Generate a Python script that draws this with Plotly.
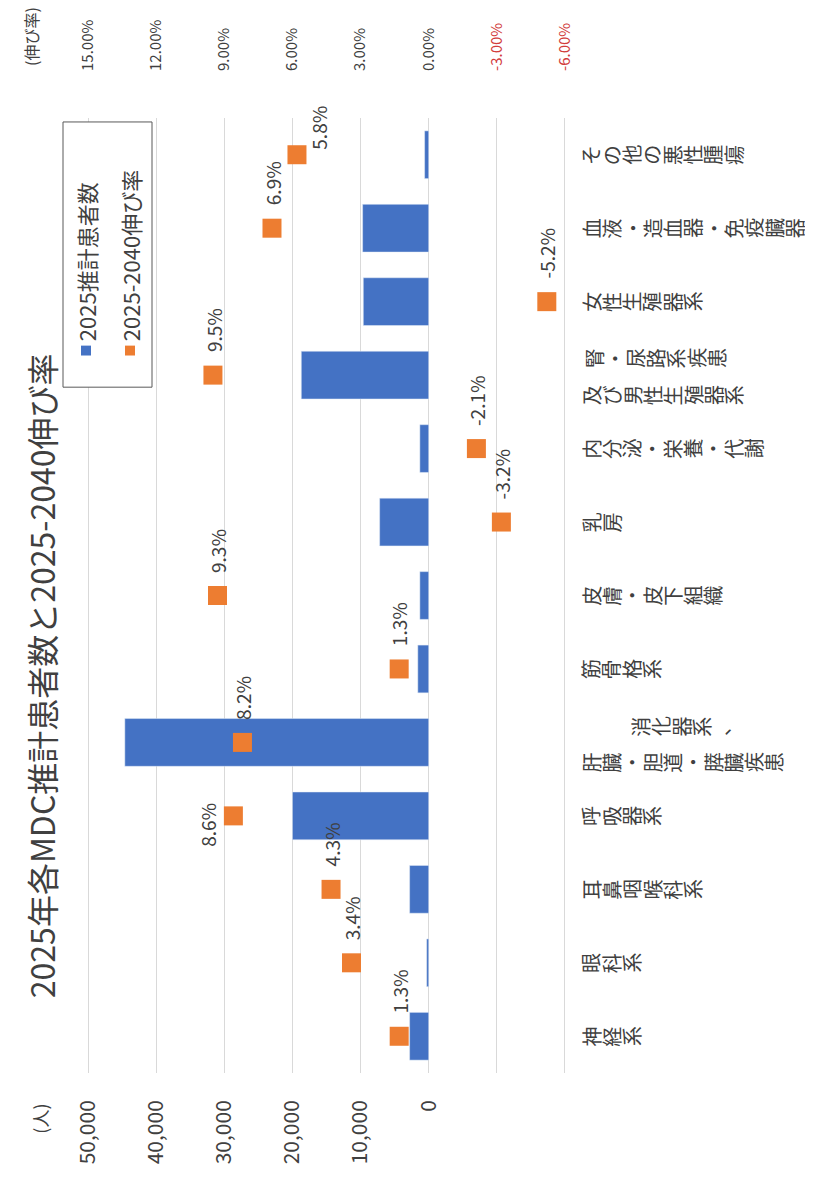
import plotly.graph_objects as go

# ---------------- data ----------------
categories = ["神経系", "眼科系", "耳鼻咽喉科系", "呼吸器系", "消化器系、肝臓・胆道・膵臓疾患",
              "筋骨格系", "皮膚・皮下組織", "乳房", "内分泌・栄養・代謝",
              "腎・尿路系疾患及び男性生殖器系", "女性生殖器系", "血液・造血器・免疫臓器", "その他の悪性腫瘍"]
label_lines = [["神経系"], ["眼科系"], ["耳鼻咽喉科系"], ["呼吸器系"], ["消化器系、", "肝臓・胆道・膵臓疾患"],
               ["筋骨格系"], ["皮膚・皮下組織"], ["乳房"], ["内分泌・栄養・代謝"],
               ["腎・尿路系疾患", "及び男性生殖器系"], ["女性生殖器系"], ["血液・造血器・免疫臓器"], ["その他の悪性腫瘍"]]
patients_2025 = [2800, 300, 2800, 20000, 44600, 1600, 1300, 7200, 1300, 18700, 9600, 9700, 600]
growth_2025_2040 = [1.3, 3.4, 4.3, 8.6, 8.2, 1.3, 9.3, -3.2, -2.1, 9.5, -5.2, 6.9, 5.8]
count_ticks = [0, 10000, 20000, 30000, 40000, 50000]
count_tick_labels = ["0", "10,000", "20,000", "30,000", "40,000", "50,000"]
pct_ticks = [15, 12, 9, 6, 3, 0, -3, -6]
pct_tick_labels = ["15.00%", "12.00%", "9.00%", "6.00%", "3.00%", "0.00%", "-3.00%", "-6.00%"]
title_text = "2025年各MDC推計患者数と2025-2040伸び率"
legend_names = ["2025推計患者数", "2025-2040伸び率"]

# ---------------- layout helpers (screen pixel coords) ----------------
OFF = 8                      # page body margin
SW, SH = 813, 1180
W, H = SW - OFF, SH - OFF
PL, PR, PT, PB = 87, 566, 108, 1073     # plot area edges (1px padding beyond outer gridlines)
PAD_PCT = 0.045                          # ~1px in percent units
PAD_CNT = 150                            # ~1px in count units
FONT = "Noto Sans CJK JP"
TXT = "#404040"
BLUE = "#4472C4"
ORANGE = "#ED7D31"
RED = "#D23C3C"
ADV = 20.3                   # advance per rotated character
CAT_FONT = 20


def px(x):
    return (x - PL) / (PR - PL)


def py(y):
    return (PB - y) / (PB - PT)


fig = go.Figure()
fig.add_trace(go.Bar(y=categories, x=patients_2025, orientation="h", marker_color=BLUE,
                     width=0.65, name=legend_names[0], xaxis="x", yaxis="y"))
fig.add_trace(go.Scatter(y=categories, x=growth_2025_2040, mode="markers",
                         marker=dict(symbol="square", size=19, color=ORANGE),
                         name=legend_names[1], xaxis="x2", yaxis="y"))

pct_text = [(f'<span style="color:{RED}">{t}</span>' if v < 0 else t)
            for v, t in zip(pct_ticks, pct_tick_labels)]

fig.update_layout(
    width=W, height=H,
    margin=dict(l=PL - OFF, r=W - (PR - OFF), t=PT - OFF, b=H - (PB - OFF)),
    paper_bgcolor="white", plot_bgcolor="white",
    showlegend=False,
    font=dict(family=FONT, color=TXT),
    xaxis=dict(range=[max(count_ticks) + PAD_CNT, -20000 - PAD_CNT],
               tickvals=count_ticks, ticktext=count_tick_labels,
               tickangle=-90, tickfont=dict(size=21, color=TXT, family=FONT),
               showgrid=False, zeroline=False, showline=False, ticks="",
               ticklabelstandoff=22),
    xaxis2=dict(overlaying="x", side="top", range=[max(pct_ticks) + PAD_PCT, min(pct_ticks) - PAD_PCT],
                tickvals=pct_ticks, ticktext=pct_text,
                tickangle=-90, tickfont=dict(size=15, color=TXT, family=FONT),
                showgrid=True, gridcolor="#D9D9D9", gridwidth=1, zeroline=False,
                showline=False, ticks="", ticklabelstandoff=46),
    yaxis=dict(type="category", categoryorder="array", categoryarray=categories,
               range=[-0.5, len(categories) - 0.5], showticklabels=False,
               showgrid=False, zeroline=False, showline=False),
)

ann = []
# title
ann.append(dict(text=title_text, x=px(41), y=py(672), xref="paper", yref="paper",
                textangle=-90, showarrow=False, xanchor="center", yanchor="middle",
                font=dict(size=32, color=TXT, family=FONT)))
# axis unit labels
ann.append(dict(text="(人)", x=px(40), y=py(1102), xref="paper", yref="paper",
                textangle=-90, showarrow=False, xanchor="center", yanchor="top",
                font=dict(size=18, color=TXT, family=FONT)))
ann.append(dict(text="(伸び率)", x=px(31), y=py(58), xref="paper", yref="paper",
                textangle=-90, showarrow=False, xanchor="center", yanchor="bottom",
                font=dict(size=16, color=TXT, family=FONT)))


def add_line(cat, text, start, yshift):
    for k, ch in enumerate(text):
        ann.append(dict(text=ch, x=px(start + ADV * (k + 0.5)), y=cat, xref="paper", yref="y",
                        textangle=-90, showarrow=False, xanchor="center", yanchor="middle",
                        yshift=yshift, font=dict(size=CAT_FONT, color=TXT, family=FONT)))


# category labels (rotated vertical text)
for cat, lines in zip(categories, label_lines):
    if len(lines) == 1:
        add_line(cat, lines[0], 581, 0)
    else:
        top, bottom = lines
        if cat.startswith("消化器"):
            add_line(cat, top, 681 - ADV * len(top) / 2, 16)
        else:
            add_line(cat, top, 584, 17)
        add_line(cat, bottom, 581, -20)

# data labels for growth rates
for cat, g in zip(categories, growth_2025_2040):
    d = dict(text=f"{g:.1f}%", x=g, y=cat, xref="x2", yref="y", textangle=-90,
             showarrow=False, xanchor="center", yanchor="bottom", yshift=21,
             font=dict(size=19, color=TXT, family=FONT))
    if cat == "呼吸器系":
        d.update(xanchor="right", yanchor="middle", xshift=-10, yshift=-9)
    elif cat == "その他の悪性腫瘍":
        d.update(xshift=22, yshift=3)
    ann.append(d)

# custom rotated legend
ann.append(dict(text=legend_names[0], x=px(86), y=py(336), xref="paper", yref="paper",
                textangle=-90, showarrow=False, xanchor="center", yanchor="bottom",
                font=dict(size=22, color=TXT, family=FONT)))
ann.append(dict(text=legend_names[1], x=px(130), y=py(336), xref="paper", yref="paper",
                textangle=-90, showarrow=False, xanchor="center", yanchor="bottom",
                font=dict(size=22, color=TXT, family=FONT)))
fig.update_layout(annotations=ann)

shapes = [
    dict(type="rect", xref="paper", yref="paper", x0=px(63), x1=px(152), y0=py(380), y1=py(112),
         line=dict(color="#595959", width=1), fillcolor="white", layer="above"),
    dict(type="rect", xref="paper", yref="paper", x0=px(81), x1=px(91), y0=py(348), y1=py(338),
         line=dict(width=0), fillcolor=BLUE, layer="above"),
    dict(type="rect", xref="paper", yref="paper", x0=px(125), x1=px(135), y0=py(348), y1=py(338),
         line=dict(width=0), fillcolor=ORANGE, layer="above"),
]
fig.update_layout(shapes=shapes)

fig.write_html("out.html")
